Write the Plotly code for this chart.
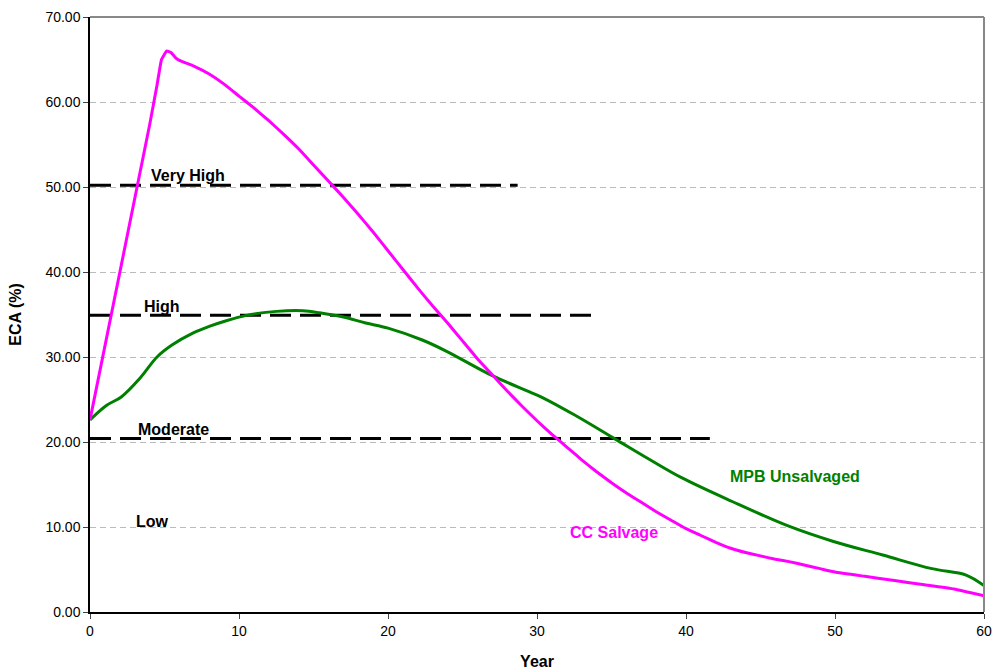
import plotly.graph_objects as go

# CC Salvage series
cc_year = [0, 4, 4.5, 4.8, 5.15, 5.45, 5.75, 6.0, 7, 8, 9, 10, 11, 12, 13, 14, 15, 16, 17, 18,
           19, 20, 21, 22, 23, 24, 25, 26, 27, 28, 29, 30, 31, 32, 33, 34, 35, 36, 37, 38, 39, 40, 41,
           42, 43, 44, 45, 46, 47, 48, 49, 50, 52, 54, 56, 58, 60]
cc_eca = [22.6, 57.3, 62.0, 65.0, 66.0, 65.8, 65.2, 64.9, 64.2, 63.3, 62.1, 60.7, 59.3,
          57.8, 56.2, 54.5, 52.6, 50.7, 48.8, 46.8, 44.7, 42.5, 40.3, 38.1, 36.0, 34.0, 31.9, 29.8, 27.9,
          26.0, 24.2, 22.5, 20.9, 19.4, 17.9, 16.5, 15.2, 14.0, 12.9, 11.8, 10.8, 9.8, 9.0, 8.2, 7.5, 7.0,
          6.6, 6.2, 5.9, 5.5, 5.1, 4.7, 4.2, 3.7, 3.2, 2.7, 1.9]

# MPB Unsalvaged series
mpb_year = [0, 1.1, 2.1, 3.35, 4.5, 5.5, 6.9, 8.0, 9.2, 10.5, 11.8, 13.2, 14.3, 15.4, 17.0, 18.5, 20.0,
            22.3, 23.9, 27.0, 29.5, 30.4, 32.5, 35.2, 37.5, 39.7, 43.1, 46.9, 49.9, 53.2, 56.5, 58.8, 60]
mpb_eca = [22.6, 24.3, 25.3, 27.5, 30.0, 31.4, 32.8, 33.6, 34.3, 34.9, 35.25, 35.45, 35.45, 35.2, 34.7,
           34.0, 33.4, 32.0, 30.7, 27.8, 25.9, 25.2, 23.2, 20.4, 18.0, 15.8, 13.0, 10.1, 8.3, 6.7, 5.1,
           4.35, 3.1]

# ECA hazard class thresholds
class_names = ["Very High", "High", "Moderate"]
class_level = [50.2, 34.9, 20.4]
class_end_year = [28.7, 33.9, 41.6]

# text labels
label_text = ["Very High", "High", "Moderate", "Low"]
label_year = [6.6, 4.8, 5.6, 4.2]
label_eca = [51.3, 36.0, 21.5, 10.6]

x_ticks = [0, 10, 20, 30, 40, 50, 60]
y_ticks = [0, 10, 20, 30, 40, 50, 60, 70]

FONT = "Liberation Sans, Arial, sans-serif"
LABEL_SIZE = 16

fig = go.Figure()

for name, lvl, xe in zip(class_names, class_level, class_end_year):
    fig.add_trace(go.Scatter(x=[0, xe], y=[lvl, lvl], mode="lines", name=name,
                             line=dict(color="black", width=3, dash="21px,9px"),
                             showlegend=False, hoverinfo="skip"))

fig.add_trace(go.Scatter(x=mpb_year, y=mpb_eca, mode="lines", name="MPB Unsalvaged",
                         line=dict(color="#008000", width=3, shape="spline", smoothing=1.0),
                         showlegend=False))
fig.add_trace(go.Scatter(x=cc_year, y=cc_eca, mode="lines", name="CC Salvage",
                         line=dict(color="#FF00FF", width=3, shape="spline", smoothing=0.3),
                         showlegend=False))

for t, xv, yv in zip(label_text, label_year, label_eca):
    fig.add_annotation(x=xv, y=yv, text=t, showarrow=False,
                       font=dict(family=FONT, size=LABEL_SIZE, color="black", weight="bold"))

fig.add_annotation(x=47.3, y=16.0, text="MPB Unsalvaged", showarrow=False,
                   font=dict(family=FONT, size=LABEL_SIZE, color="#008000", weight="bold"))
fig.add_annotation(x=35.2, y=9.4, text="CC Salvage", showarrow=False,
                   font=dict(family=FONT, size=LABEL_SIZE, color="#FF00FF", weight="bold"))

fig.update_layout(
    width=992, height=671,
    margin=dict(l=90, r=8, t=17, b=59),
    paper_bgcolor="white", plot_bgcolor="white",
    font=dict(family=FONT, size=14, color="black"),
    shapes=[
        dict(type="line", xref="paper", yref="paper", x0=0, x1=1, y0=1, y1=1,
             line=dict(color="#888888", width=2)),
        dict(type="line", xref="paper", yref="paper", x0=1, x1=1, y0=0, y1=1,
             line=dict(color="#888888", width=2)),
    ],
)

fig.update_xaxes(range=[0, 60], tickvals=x_ticks, ticks="outside", ticklen=5, automargin=False,
                 showline=True, linecolor="black", linewidth=1.5, showgrid=False, zeroline=False,
                 tickfont=dict(size=14),
                 title=dict(text="Year", font=dict(size=LABEL_SIZE, weight="bold"), standoff=18))
fig.update_yaxes(range=[0, 70], tickvals=y_ticks, tickformat=".2f", ticks="outside", ticklen=5,
                 automargin=False,
                 showline=True, linecolor="black", linewidth=1.5,
                 showgrid=True, gridcolor="#BBBBBB", griddash="6px,4px", gridwidth=1, zeroline=False,
                 tickfont=dict(size=14),
                 title=dict(text="ECA (%)", font=dict(size=LABEL_SIZE, weight="bold"), standoff=20))

fig.write_html("out.html")
